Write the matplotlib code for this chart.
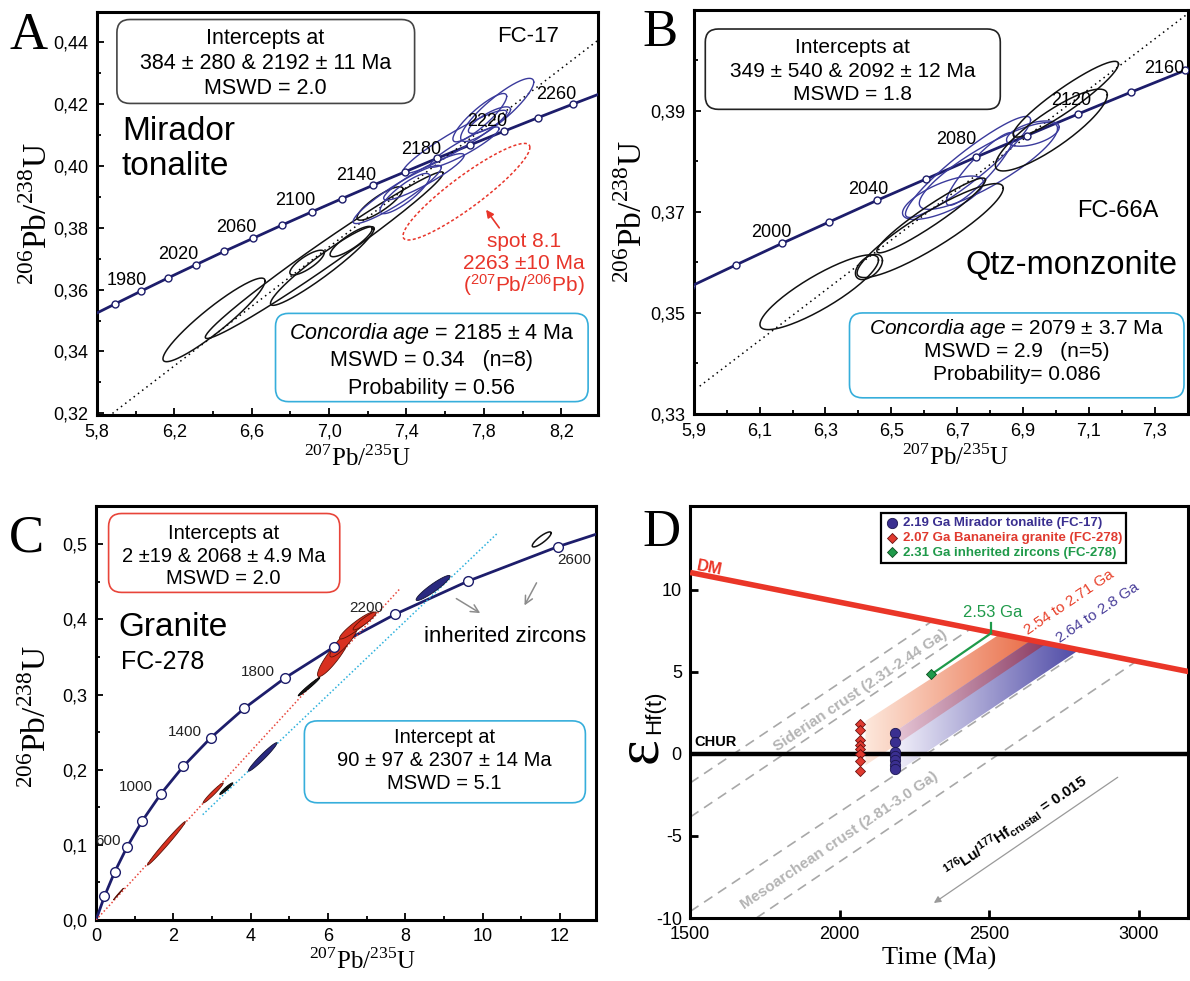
import numpy as np
import matplotlib
matplotlib.use("Agg")
import matplotlib.pyplot as plt
from matplotlib.patches import FancyBboxPatch, Polygon
from matplotlib.colors import LinearSegmentedColormap

plt.rcParams['font.family'] = ['Liberation Sans', 'DejaVu Sans']
plt.rcParams['mathtext.fontset'] = 'custom'
plt.rcParams['mathtext.rm'] = 'Liberation Serif'
plt.rcParams['mathtext.it'] = 'Liberation Sans:italic'
plt.rcParams['mathtext.bf'] = 'Liberation Sans:bold'
plt.rcParams['mathtext.sf'] = 'Liberation Sans'

NAVY = '#1d1d6b'
ELL_BLUE = '#3a3a9c'
RED = '#e8352a'
CYAN = '#36aedb'
GREEN = '#1f9a4a'
SERIF = 'Liberation Serif'

# ---------- A : FC-17 Mirador tonalite ----------
a_conc_x = [5.757, 5.892, 6.028, 6.169, 6.311, 6.457, 6.605, 6.756, 6.911, 7.068,
            7.228, 7.392, 7.559, 7.729, 7.903, 8.080, 8.261, 8.445]
a_conc_y = [0.3511, 0.3553, 0.3595, 0.3638, 0.3680, 0.3723, 0.3765, 0.3808, 0.3851, 0.3894,
            0.3937, 0.3980, 0.4024, 0.4067, 0.4111, 0.4155, 0.4199, 0.4243]
a_lab_text = ['1980', '2020', '2060', '2100', '2140', '2180', '2220', '2260']
a_lab_x = [5.953, 6.221, 6.519, 6.826, 7.14, 7.475, 7.819, 8.176]
a_lab_y = [0.3628, 0.3714, 0.3799, 0.3889, 0.3969, 0.4053, 0.4142, 0.423]
a_disc_x = [5.88, 8.39]
a_disc_y = [0.32, 0.4405]
a_blk_cx = [6.405, 6.975, 6.965, 6.886, 7.114, 7.263]
a_blk_cy = [0.3502, 0.3711, 0.3676, 0.3687, 0.3755, 0.3878]
a_blk_sx = [0.264, 0.615, 0.268, 0.089, 0.109, 0.119]
a_blk_sy = [0.0135, 0.0269, 0.0127, 0.0040, 0.0049, 0.0054]
a_blk_rho = [0.93, 0.985, 0.95, 0.8, 0.85, 0.85]
a_blu_cx = [7.352, 7.49, 7.65, 7.869, 7.70, 7.829, 7.392, 7.779]
a_blu_cy = [0.3907, 0.3964, 0.4077, 0.418, 0.406, 0.4147, 0.391, 0.4155]
a_blu_sx = [0.228, 0.208, 0.268, 0.189, 0.179, 0.109, 0.129, 0.139]
a_blu_sy = [0.0094, 0.0075, 0.0102, 0.0102, 0.0065, 0.0043, 0.0065, 0.0078]
a_blu_rho = [0.93, 0.92, 0.94, 0.88, 0.92, 0.8, 0.85, 0.88]
a_spot = [7.71, 0.3916, 0.328, 0.0156, 0.915]
a_xticks = [5.8, 6.2, 6.6, 7.0, 7.4, 7.8, 8.2]
a_xticklabels = ['5,8', '6,2', '6,6', '7,0', '7,4', '7,8', '8,2']
a_yticks = [0.32, 0.34, 0.36, 0.38, 0.40, 0.42, 0.44]
a_yticklabels = ['0,32', '0,34', '0,36', '0,38', '0,40', '0,42', '0,44']

# ---------- B : FC-66A Qtz-monzonite ----------
b_conc_x = [5.892, 6.028, 6.169, 6.311, 6.457, 6.605, 6.756, 6.911, 7.068, 7.228, 7.392, 7.559]
b_conc_y = [0.3553, 0.3595, 0.3638, 0.3680, 0.3723, 0.3765, 0.3808, 0.3851, 0.3894, 0.3937, 0.3980, 0.4024]
b_lab_text = ['2000', '2040', '2080', '2120', '2160']
b_lab_x = [6.136, 6.43, 6.698, 7.047, 7.33]
b_lab_y = [0.3659, 0.3745, 0.3844, 0.3921, 0.3983]
b_disc_x = [5.918, 7.41]
b_disc_y = [0.3355, 0.4097]
b_blk_cx = [6.281, 6.432, 6.618, 6.621, 7.03, 6.986]
b_blk_cy = [0.3541, 0.3591, 0.3663, 0.3693, 0.3923, 0.3862]
b_blk_sx = [0.18, 0.041, 0.222, 0.165, 0.16, 0.17]
b_blk_sy = [0.0074, 0.0025, 0.0093, 0.0074, 0.0075, 0.0081]
b_blk_rho = [0.86, 0.5, 0.9, 0.95, 0.93, 0.86]
b_blu_cx = [6.733, 6.795, 6.77, 6.93, 6.657]
b_blu_cy = [0.3789, 0.3791, 0.3785, 0.3855, 0.3728]
b_blu_sx = [0.19, 0.21, 0.103, 0.08, 0.123]
b_blu_sy = [0.01, 0.0086, 0.0072, 0.0025, 0.0043]
b_blu_rho = [0.93, 0.86, 0.9, 0.5, 0.7]
b_xticks = [5.9, 6.1, 6.3, 6.5, 6.7, 6.9, 7.1, 7.3]
b_xticklabels = ['5,9', '6,1', '6,3', '6,5', '6,7', '6,9', '7,1', '7,3']
b_yticks = [0.33, 0.35, 0.37, 0.39]
b_yticklabels = ['0,33', '0,35', '0,37', '0,39']

# ---------- C : FC-278 granite ----------
c_conc_x = [0, 0.218, 0.483, 0.806, 1.199, 1.677, 2.260, 2.970, 3.834, 4.887,
            6.169, 7.729, 9.629, 11.944, 14.762]
c_conc_y = [0, 0.0315, 0.0640, 0.0975, 0.1321, 0.1678, 0.2046, 0.2426, 0.2817, 0.3221,
            0.3638, 0.4067, 0.4511, 0.4968, 0.5440]
c_lab_text = ['600', '1000', '1400', '1800', '2200', '2600']
c_lab_x = [0.32, 1.03, 2.30, 4.19, 6.98, 12.36]
c_lab_y = [0.1046, 0.1768, 0.2507, 0.3295, 0.4154, 0.4786]
c_red_line_x = [0.0, 7.86]
c_red_line_y = [0.0, 0.4408]
c_cyan_line_x = [2.76, 10.39]
c_cyan_line_y = [0.1402, 0.515]
c_red_cx = [0.58, 1.82, 3.03, 6.15, 6.4, 6.75, 6.95]
c_red_cy = [0.0345, 0.102, 0.169, 0.352, 0.37, 0.392, 0.398]
c_red_sx = [0.13, 0.49, 0.26, 0.42, 0.35, 0.45, 0.3]
c_red_sy = [0.0077, 0.029, 0.0133, 0.028, 0.02, 0.018, 0.012]
c_red_rho = [0.995, 0.99, 0.97, 0.9, 0.88, 0.93, 0.92]
c_nav_cx = [4.31, 8.72]
c_nav_cy = [0.217, 0.4419]
c_nav_sx = [0.37, 0.44]
c_nav_sy = [0.019, 0.0167]
c_nav_rho = [0.97, 0.93]
c_blk_cx = [5.51, 3.37]
c_blk_cy = [0.3105, 0.1748]
c_blk_sx = [0.28, 0.17]
c_blk_sy = [0.0122, 0.0078]
c_blk_rho = [0.98, 0.95]
c_inh = [11.53, 0.5065, 0.245, 0.010, 0.85]
c_xticks = [0, 2, 4, 6, 8, 10, 12]
c_xticklabels = ['0', '2', '4', '6', '8', '10', '12']
c_yticks = [0.0, 0.1, 0.2, 0.3, 0.4, 0.5]
c_yticklabels = ['0,0', '0,1', '0,2', '0,3', '0,4', '0,5']

# ---------- D : epsilon Hf vs time ----------
dm_x = [1500, 3170]
dm_y = [11.05, 5.0]
crust_x0 = [1500, 1500, 1500, 1721]
crust_y0 = [-1.77, -3.85, -9.6, -10.0]
crust_x1 = [2310, 2440, 2810, 2990]
crust_y1 = [8.1, 7.65, 6.3, 5.62]
ton_age = [2185, 2185, 2185, 2185, 2185, 2185, 2185]
ton_eps = [1.3, 0.7, 0.1, -0.15, -0.4, -0.65, -0.9]
gra_age = [2068, 2068, 2068, 2068, 2068, 2068, 2068, 2068]
gra_eps = [1.8, 1.45, 0.85, 0.55, 0.3, 0.0, -0.45, -1.05]
inh_age = [2306]
inh_eps = [4.84]
inh_line_x = [2306, 2506]
inh_line_y = [4.84, 7.35]
orange_x = [2086, 2540, 2694, 2086]
orange_y = [2.0, 7.35, 6.76, -0.7]
blue_x = [2185, 2640, 2800, 2185]
blue_y = [1.36, 6.91, 6.33, -1.18]
overlap_x = [2185, 2640, 2694, 2185]
overlap_y = [1.36, 6.91, 6.76, 0.51]
d_xticks = [1500, 2000, 2500, 3000]
d_xticklabels = ['1500', '2000', '2500', '3000']
d_yticks = [-10, -5, 0, 5, 10]
d_yticklabels = ['-10', '-5', '0', '5', '10']


def ellipse(ax, cx, cy, sx, sy, rho, fill=None, z=4, **kw):
    t = np.linspace(0, 2 * np.pi, 150)
    x = cx + sx * np.cos(t)
    y = cy + sy * (rho * np.cos(t) + np.sqrt(1 - rho ** 2) * np.sin(t))
    if fill:
        ax.fill(x, y, facecolor=fill, zorder=z, **kw)
    else:
        ax.plot(x, y, zorder=z, **kw)


def rbox(ax, x0, y0, x1, y1, ec, r=13, lw=1.2):
    fig = ax.figure
    pos = ax.get_position()
    wpx = pos.width * fig.get_figwidth() * fig.dpi
    hpx = pos.height * fig.get_figheight() * fig.dpi
    xl, yl = ax.get_xlim(), ax.get_ylim()
    kx = wpx / (xl[1] - xl[0])
    ky = hpx / (yl[1] - yl[0])
    ax.add_patch(FancyBboxPatch((x0, y0), x1 - x0, y1 - y0,
                                boxstyle='round,pad=0,rounding_size=%f' % (r / kx),
                                mutation_aspect=kx / ky, fc='none', ec=ec, lw=lw, zorder=2))


def style(ax, xt, xtl, yt, ytl, xmin=None, ymin=None):
    for s in ax.spines.values():
        s.set_linewidth(2.2)
    ax.set_xticks(xt)
    ax.set_xticklabels(xtl)
    ax.set_yticks(yt)
    ax.set_yticklabels(ytl)
    if xmin is not None:
        ax.set_xticks(xmin, minor=True)
    if ymin is not None:
        ax.set_yticks(ymin, minor=True)
    ax.tick_params(which='both', direction='in', width=1.3, labelsize=13, pad=6)
    ax.tick_params(which='major', length=5)
    ax.tick_params(which='minor', length=3)


def labels(ax, xl, yl, xpos, ypos, xsize=18, ysize=24):
    ax.set_xlabel(xl, fontfamily=SERIF, fontsize=xsize, va='center')
    ax.set_ylabel(yl, fontfamily=SERIF, fontsize=ysize, va='center')
    ax.xaxis.set_label_coords(*xpos)
    ax.yaxis.set_label_coords(*ypos)


fig = plt.figure(figsize=(11.9, 9.81), dpi=100)
axA = fig.add_axes([0.0815, 0.577, 0.421, 0.411])
axB = fig.add_axes([0.583, 0.578, 0.415, 0.412])
axC = fig.add_axes([0.0807, 0.0622, 0.420, 0.422])
axD = fig.add_axes([0.580, 0.0642, 0.4185, 0.420])

# ================= A =================
ax = axA
style(ax, a_xticks, a_xticklabels, a_yticks, a_yticklabels,
      [6.0, 6.4, 6.8, 7.2, 7.6, 8.0], [0.33, 0.35, 0.37, 0.39, 0.41, 0.43, 0.45])
ax.set_xlim(5.8, 8.39)
ax.set_ylim(0.3195, 0.4497)
ax.plot(a_conc_x, a_conc_y, color=NAVY, lw=2, zorder=3)
ax.plot(a_conc_x, a_conc_y, 'o', ms=5, mfc='white', mec=NAVY, mew=1, zorder=7)
ax.plot(a_disc_x, a_disc_y, color='k', lw=1.1, ls=(0, (1, 2.5)), zorder=3)
for i in range(len(a_blk_cx)):
    ellipse(ax, a_blk_cx[i], a_blk_cy[i], a_blk_sx[i], a_blk_sy[i], a_blk_rho[i], color='#111111', lw=1.1)
for i in range(len(a_blu_cx)):
    ellipse(ax, a_blu_cx[i], a_blu_cy[i], a_blu_sx[i], a_blu_sy[i], a_blu_rho[i], color=ELL_BLUE, lw=1.0, z=5)
ellipse(ax, *a_spot, color=RED, lw=1.1, ls=(0, (2, 1.5)))
for t, x, y in zip(a_lab_text, a_lab_x, a_lab_y):
    ax.text(x, y, t, ha='center', va='center', fontsize=13, zorder=8)
ax.annotate('', xy=(7.803, 0.3865), xytext=(7.888, 0.3792),
            arrowprops=dict(arrowstyle='-|>', color=RED, lw=1.2, mutation_scale=11))
ax.text(8.007, 0.3754, 'spot 8.1', color=RED, ha='center', va='center', fontsize=15)
ax.text(8.007, 0.3684, '2263 ±10 Ma', color=RED, ha='center', va='center', fontsize=15)
ax.text(8.007, 0.3614, r'($^{\mathsf{207}}$Pb/$^{\mathsf{206}}$Pb)', color=RED, ha='center', va='center', fontsize=15)
ax.text(8.027, 0.4416, 'FC-17', ha='center', va='center', fontsize=16)
ax.text(5.929, 0.4109, 'Mirador', ha='left', va='center', fontsize=24)
ax.text(5.929, 0.3996, 'tonalite', ha='left', va='center', fontsize=24)
rbox(ax, 5.903, 0.4201, 7.442, 0.4472, '#444444')
ax.text(6.671, 0.4411, 'Intercepts at', ha='center', va='center', fontsize=15.5)
ax.text(6.671, 0.4330, '384 ± 280 & 2192 ± 11 Ma', ha='center', va='center', fontsize=15.5)
ax.text(6.671, 0.4249, 'MSWD = 2.0', ha='center', va='center', fontsize=15.5)
rbox(ax, 6.723, 0.3238, 8.339, 0.3523, CYAN)
ax.text(7.53, 0.3458, r'$\mathit{Concordia\ age}$ = 2185 ± 4 Ma', ha='center', va='center', fontsize=15.5)
ax.text(7.53, 0.3372, 'MSWD = 0.34   (n=8)', ha='center', va='center', fontsize=15.5)
ax.text(7.53, 0.3281, 'Probability = 0.56', ha='center', va='center', fontsize=15.5)
labels(ax, r'$^{207}$Pb/$^{235}$U', r'$^{206}$Pb/$^{238}$U', (0.52, -0.107), (-0.12, 0.5))

# ================= B =================
ax = axB
style(ax, b_xticks, b_xticklabels, b_yticks, b_yticklabels,
      [6.0, 6.2, 6.4, 6.6, 6.8, 7.0, 7.2, 7.4], [0.34, 0.36, 0.38, 0.40])
ax.set_xlim(5.9, 7.40)
ax.set_ylim(0.33, 0.41)
ax.plot(b_conc_x, b_conc_y, color=NAVY, lw=2, zorder=3)
ax.plot(b_conc_x, b_conc_y, 'o', ms=5, mfc='white', mec=NAVY, mew=1, zorder=7)
ax.plot(b_disc_x, b_disc_y, color='k', lw=1.1, ls=(0, (1, 2.5)), zorder=3)
for i in range(len(b_blu_cx)):
    ellipse(ax, b_blu_cx[i], b_blu_cy[i], b_blu_sx[i], b_blu_sy[i], b_blu_rho[i], color=ELL_BLUE, lw=1.0)
for i in range(len(b_blk_cx)):
    ellipse(ax, b_blk_cx[i], b_blk_cy[i], b_blk_sx[i], b_blk_sy[i], b_blk_rho[i], color='#111111', lw=1.1, z=5)
for t, x, y in zip(b_lab_text, b_lab_x, b_lab_y):
    ax.text(x, y, t, ha='center', va='center', fontsize=13, zorder=8)
ax.text(7.188, 0.3702, 'FC-66A', ha='center', va='center', fontsize=17)
ax.text(7.047, 0.3593, 'Qtz-monzonite', ha='center', va='center', fontsize=23.5)
rbox(ax, 5.935, 0.3903, 6.831, 0.4062, '#222222')
ax.text(6.383, 0.4026, 'Intercepts at', ha='center', va='center', fontsize=15)
ax.text(6.383, 0.3977, '349 ± 540 & 2092 ± 12 Ma', ha='center', va='center', fontsize=15)
ax.text(6.383, 0.3933, 'MSWD = 1.8', ha='center', va='center', fontsize=15)
rbox(ax, 6.373, 0.3332, 7.389, 0.35, CYAN)
ax.text(6.881, 0.3470, r'$\mathit{Concordia\ age}$ = 2079 ± 3.7 Ma', ha='center', va='center', fontsize=15)
ax.text(6.881, 0.3424, 'MSWD = 2.9   (n=5)', ha='center', va='center', fontsize=15)
ax.text(6.881, 0.3378, 'Probability= 0.086', ha='center', va='center', fontsize=15)
labels(ax, r'$^{207}$Pb/$^{235}$U', r'$^{206}$Pb/$^{238}$U', (0.53, -0.107), (-0.125, 0.5))

# ================= C =================
ax = axC
style(ax, c_xticks, c_xticklabels, c_yticks, c_yticklabels,
      [1, 3, 5, 7, 9, 11], [0.05, 0.15, 0.25, 0.35, 0.45, 0.55])
ax.set_xlim(0, 12.93)
ax.set_ylim(0, 0.551)
ax.plot(c_conc_x, c_conc_y, color=NAVY, lw=2, zorder=3)
ax.plot(c_conc_x[1:], c_conc_y[1:], 'o', ms=7, mfc='white', mec=NAVY, mew=1, zorder=7)
ax.plot(c_red_line_x, c_red_line_y, color='#e8453a', lw=1.1, ls=(0, (1, 1.5)), zorder=3)
ax.plot(c_cyan_line_x, c_cyan_line_y, color='#2ab0dc', lw=1.1, ls=(0, (1, 1.5)), zorder=3)
for i in range(len(c_red_cx)):
    ellipse(ax, c_red_cx[i], c_red_cy[i], c_red_sx[i], c_red_sy[i], c_red_rho[i],
            fill='#d8301f', edgecolor='#5a1208', lw=0.6, z=5)
for i in range(len(c_nav_cx)):
    ellipse(ax, c_nav_cx[i], c_nav_cy[i], c_nav_sx[i], c_nav_sy[i], c_nav_rho[i],
            fill='#2a2a80', edgecolor='#111133', lw=0.6, z=5)
for i in range(len(c_blk_cx)):
    ellipse(ax, c_blk_cx[i], c_blk_cy[i], c_blk_sx[i], c_blk_sy[i], c_blk_rho[i],
            fill='#151515', edgecolor='#000000', lw=0.6, z=5)
ellipse(ax, *c_inh, color='#111111', lw=1.1)
for t, x, y in zip(c_lab_text, c_lab_x, c_lab_y):
    ax.text(x, y, t, ha='center', va='center', fontsize=11, color='#222222', zorder=8)
ax.annotate('', xy=(10.0, 0.4065), xytext=(9.26, 0.4297),
            arrowprops=dict(arrowstyle='->', color='#8c8c8c', lw=1.1, mutation_scale=14))
ax.annotate('', xy=(11.05, 0.4154), xytext=(11.43, 0.452),
            arrowprops=dict(arrowstyle='->', color='#8c8c8c', lw=1.1, mutation_scale=14))
ax.text(10.59, 0.3776, 'inherited zircons', ha='center', va='center', fontsize=16)
ax.text(0.59, 0.3896, 'Granite', ha='left', va='center', fontsize=24)
ax.text(0.64, 0.343, 'FC-278', ha='left', va='center', fontsize=18)
rbox(ax, 0.325, 0.436, 6.305, 0.541, '#e8453a')
ax.text(3.3, 0.514, 'Intercepts at', ha='center', va='center', fontsize=14.5)
ax.text(3.3, 0.484, '2 ±19 & 2068 ± 4.9 Ma', ha='center', va='center', fontsize=14.5)
ax.text(3.3, 0.454, 'MSWD = 2.0', ha='center', va='center', fontsize=14.5)
rbox(ax, 5.39, 0.156, 12.66, 0.265, CYAN)
ax.text(9.02, 0.2435, 'Intercept at', ha='center', va='center', fontsize=14.5)
ax.text(9.02, 0.2124, '90 ± 97 & 2307 ± 14 Ma', ha='center', va='center', fontsize=14.5)
ax.text(9.02, 0.1812, 'MSWD = 5.1', ha='center', va='center', fontsize=14.5)
labels(ax, r'$^{207}$Pb/$^{235}$U', r'$^{206}$Pb/$^{238}$U', (0.534, -0.1), (-0.12, 0.49))

# ================= D =================
ax = axD
style(ax, d_xticks, d_xticklabels, d_yticks, d_yticklabels)
ax.tick_params(which='major', length=6, width=2)
ax.set_xlim(1500, 3165)
ax.set_ylim(-10, 15.1)
for i in range(len(crust_x0)):
    ax.plot([crust_x0[i], crust_x1[i]], [crust_y0[i], crust_y1[i]], color='#a8a8a8',
            lw=1.2, ls=(0, (6, 4)), zorder=1)


def grad_band(ax, xs, ys, c0, c1, z):
    poly = Polygon(np.column_stack([xs, ys]), closed=True, fc='none', ec='none')
    ax.add_patch(poly)
    cmap = LinearSegmentedColormap.from_list('band', [c0, c1])
    grad = np.linspace(0, 1, 256).reshape(1, -1)
    im = ax.imshow(grad, cmap=cmap, extent=[min(xs), max(xs), min(ys), max(ys)],
                   aspect='auto', origin='lower', zorder=z, interpolation='bilinear')
    im.set_clip_path(poly)


grad_band(ax, orange_x, orange_y, '#fde8dc', '#e8643c', 2)
grad_band(ax, blue_x, blue_y, '#f2f0fa', '#4e4aa6', 2.1)
grad_band(ax, overlap_x, overlap_y, '#e6c6d6', '#8a3a62', 2.2)
ax.set_xlim(1500, 3165)
ax.set_ylim(-10, 15.1)

ax.plot(dm_x, dm_y, color='#ea3628', lw=4, zorder=4, solid_capstyle='butt')
ax.axhline(0, color='k', lw=3.2, zorder=4)
ax.plot(inh_line_x, inh_line_y, color=GREEN, lw=1.6, zorder=5)
ax.plot([inh_line_x[1], inh_line_x[1]], [inh_line_y[1], inh_line_y[1] + 0.6], color=GREEN, lw=1.6, zorder=5)

h1 = ax.scatter(ton_age, ton_eps, s=55, c='#3a2f90', edgecolors='#1c1650', lw=0.6,
                label='2.19 Ga Mirador tonalite (FC-17)', zorder=8)
h2 = ax.scatter(gra_age, gra_eps, s=26, marker='D', c='#e03a2f', edgecolors='#6a1010', lw=0.6,
                label='2.07 Ga Bananeira granite (FC-278)', zorder=8)
h3 = ax.scatter(inh_age, inh_eps, s=26, marker='D', c=GREEN, edgecolors='#0d4d20', lw=0.6,
                label='2.31 Ga inherited zircons (FC-278)', zorder=8)
leg = ax.legend(handles=[h1, h2, h3], loc='upper left', bbox_to_anchor=(0.384, 0.983),
                frameon=True, fancybox=False, edgecolor='k', framealpha=1,
                prop={'weight': 'bold', 'size': 9.5}, handletextpad=0.3, borderpad=0.3,
                labelspacing=0.2, handlelength=1.0, borderaxespad=0)
leg.get_frame().set_linewidth(1.6)
for t, c in zip(leg.get_texts(), ['#3a2f90', '#e03a2f', GREEN]):
    t.set_color(c)

ax.text(1565, 11.35, 'DM', color='#ea3628', fontweight='bold', fontsize=12,
        rotation=-11, ha='center', va='center', zorder=6)
ax.text(1515, 0.3, 'CHUR', fontweight='bold', fontsize=10.5, ha='left', va='bottom', zorder=6)
ax.text(2510, 8.6, '2.53 Ga', color=GREEN, fontsize=12, ha='center', va='center')
ax.text(2768, 9.25, '2.54 to 2.71 Ga', color='#e8402a', fontsize=11, rotation=34,
        ha='center', va='center')
ax.text(2862, 8.6, '2.64 to 2.8 Ga', color='#4a3f9a', fontsize=11, rotation=34,
        ha='center', va='center')
ax.text(2069, 3.86, 'Siderian crust (2.31-2.44 Ga)', color='#b4b4b4', fontweight='bold',
        fontsize=11, rotation=34, ha='center', va='center', zorder=1.5)
ax.text(1999, -5.3, 'Mesoarchean crust (2.81-3.0 Ga)', color='#b4b4b4', fontweight='bold',
        fontsize=11, rotation=34, ha='center', va='center', zorder=1.5)
ax.text(2590, -4.39, r'$^{\mathbf{176}}$Lu/$^{\mathbf{177}}$Hf$_{\mathbf{crustal}}$ = 0.015',
        fontweight='bold', fontsize=11, rotation=34, ha='center', va='center')
ax.annotate('', xy=(2307, -9.18), xytext=(2937, -1.33),
            arrowprops=dict(arrowstyle='-|>', color='#9a9a9a', lw=0.9, mutation_scale=10))
ax.set_xlabel('Time (Ma)', fontfamily=SERIF, fontsize=19, va='center')
ax.xaxis.set_label_coords(0.50, -0.097)
ax.text(-0.094, 0.40, r'$\mathrm{\varepsilon}$', transform=ax.transAxes, rotation=90,
        fontsize=44, ha='center', va='center')
ax.text(-0.072, 0.50, 'Hf(t)', transform=ax.transAxes, rotation=90,
        fontsize=16, ha='center', va='center')

# panel letters
for lab, x, y in [('A', 29, 36), ('B', 660, 33), ('C', 26, 538), ('D', 662, 533)]:
    fig.text(x / 1190, 1 - y / 981, lab, fontfamily=SERIF, fontsize=38, ha='center', va='center')

fig.savefig('out.png', dpi=100)
